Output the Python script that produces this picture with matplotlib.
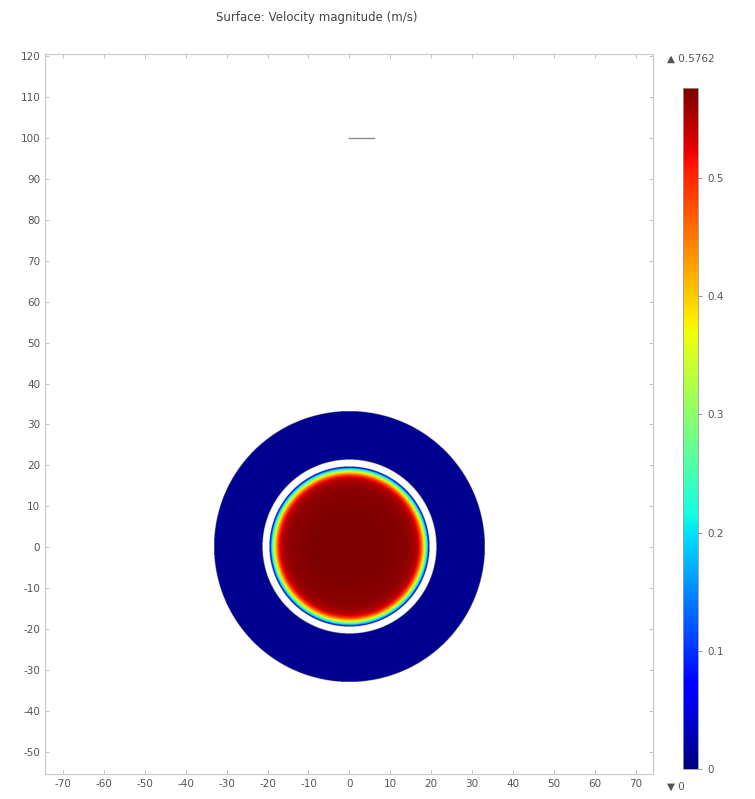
"""Surface plot of velocity magnitude in a circular domain (COMSOL style)."""

import numpy as np
import matplotlib
matplotlib.use("Agg")
import matplotlib.pyplot as plt

plt.rcParams["axes.unicode_minus"] = False

# ── Data ────────────────────────────────────────────────────────────────────
# radial velocity profile of the inner fluid disk (r in mm, v in m/s)
profile_r = [0.0, 5.0, 10.0, 14.0, 15.6, 16.6, 17.3, 17.9, 18.4, 18.9, 19.2, 19.5]
profile_v = [0.5762, 0.576, 0.574, 0.570, 0.560, 0.545, 0.50, 0.42, 0.33, 0.22, 0.12, 0.0]

inner_radius = 19.5          # edge of the moving fluid disk
annulus_inner = 21.2         # white gap between disk and outer ring
annulus_outer = 33.0         # outer ring, velocity 0
annulus_value = 0.01

marker_x = [0.0, 6.0]        # short line segment near the top
marker_y = [100.0, 100.0]

vmin, vmax = 0.0, 0.5762
x_ticks = list(range(-70, 71, 10))
y_ticks = list(range(-50, 121, 10))
cbar_ticks = [0.0, 0.1, 0.2, 0.3, 0.4, 0.5]
cbar_labels = ["0", "0.1", "0.2", "0.3", "0.4", "0.5"]

TXT = "#555555"

fig = plt.figure(figsize=(7.55, 7.99), dpi=100)
ax = fig.add_axes([0.0596, 0.0313, 0.8053, 0.9011])

# ── Build the surface field on a grid ──────────────────────────────────────
n = 1000
g = np.linspace(-annulus_outer, annulus_outer, n)
X, Y = np.meshgrid(g, g)
R = np.hypot(X, Y)
field = np.interp(R, profile_r, profile_v)
field = np.where(R > inner_radius, annulus_value, field)
mask = (R > annulus_outer) | ((R > inner_radius) & (R < annulus_inner))
field = np.ma.masked_array(field, mask=mask)

im = ax.imshow(field, extent=[-annulus_outer, annulus_outer, -annulus_outer, annulus_outer],
               origin="lower", cmap="jet", vmin=vmin, vmax=vmax,
               interpolation="bilinear", zorder=1)

ax.plot(marker_x, marker_y, color="#8a8a8a", linewidth=1.0, zorder=2)

ax.set_xlim(-74.4, 74.2)
ax.set_ylim(-55.4, 120.5)
ax.set_aspect("auto")
ax.set_xticks(x_ticks)
ax.set_yticks(y_ticks)
ax.tick_params(axis="both", which="both", direction="in", length=3, width=0.6,
               colors="#bbbbbb", labelcolor=TXT, labelsize=7.5,
               top=True, right=True)
for sp in ax.spines.values():
    sp.set_color("#c8c8c8")
    sp.set_linewidth(0.8)

fig.text(0.42, 0.978, "Surface: Velocity magnitude (m/s)", ha="center", va="center",
         fontsize=8.5, color="#444444")

# ── Colour bar ─────────────────────────────────────────────────────────────
cax = fig.add_axes([0.9046, 0.0375, 0.0199, 0.8523])
cb = fig.colorbar(im, cax=cax, ticks=cbar_ticks)
cb.ax.set_yticklabels(cbar_labels)
cb.ax.tick_params(length=3, width=0.6, colors="#888888", labelcolor=TXT, labelsize=7.5)
cb.outline.set_edgecolor("#999999")
cb.outline.set_linewidth(0.6)

fig.text(0.884, 0.927, "▲ " + f"{vmax:.4f}", ha="left", va="center", fontsize=7.5, color=TXT)
fig.text(0.884, 0.015, "▼ 0", ha="left", va="center", fontsize=7.5, color=TXT)

plt.savefig("out.png", dpi=100)
